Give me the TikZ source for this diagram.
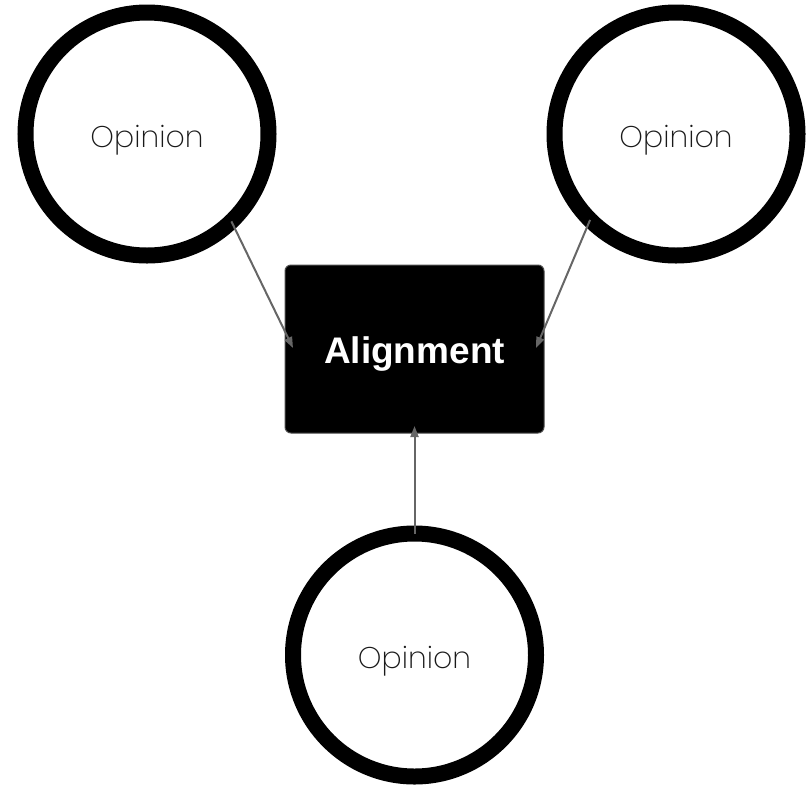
\documentclass[tikz,border=0pt]{standalone}
\usepackage{fontspec}
\setmainfont{Liberation Sans}
\newfontfamily\opfont{Poppins ExtraLight}
\usepackage{tikz}
\usetikzlibrary{positioning,arrows.meta}

\begin{document}
\begin{tikzpicture}[x=1pt, y=-1pt, node distance=200pt, on grid,
    opinion/.style={circle, draw=black, line width=16pt, outer sep=0pt,
        minimum size=243pt, text height=26pt, text depth=0pt,
        font=\opfont\fontsize{30}{36}\selectfont, text=black!90},
    target/.style={rectangle, rounded corners=6pt, fill=black, draw=black!70,
        line width=1pt, outer sep=0pt, minimum width=259pt, minimum height=168pt,
        text height=28pt, text depth=0pt,
        text=white, font=\bfseries\fontsize{37}{44}\selectfont},
    link/.style={draw=black!60, line width=2pt,
        -{Triangle[length=11pt, width=8pt]}}]

    \useasboundingbox (0,0) rectangle (811,785);

    \node[target] (align) at (414.5,349) {Alignment};
    \node[opinion] (op1) [above left=215pt and 267.5pt of align] {Opinion};
    \node[opinion] (op2) [above right=215pt and 261.5pt of align] {Opinion};
    \node[opinion] (op3) [below=306pt of align] {Opinion};

    \draw[link] (op1.-46) -- ([xshift=8pt, yshift=1pt]align.west);
    \draw[link] (op2.225) -- ([xshift=-8pt, yshift=1pt]align.east);
    \draw[link] (op3.north) -- ([yshift=7pt]align.south);

\end{tikzpicture}
\end{document}
